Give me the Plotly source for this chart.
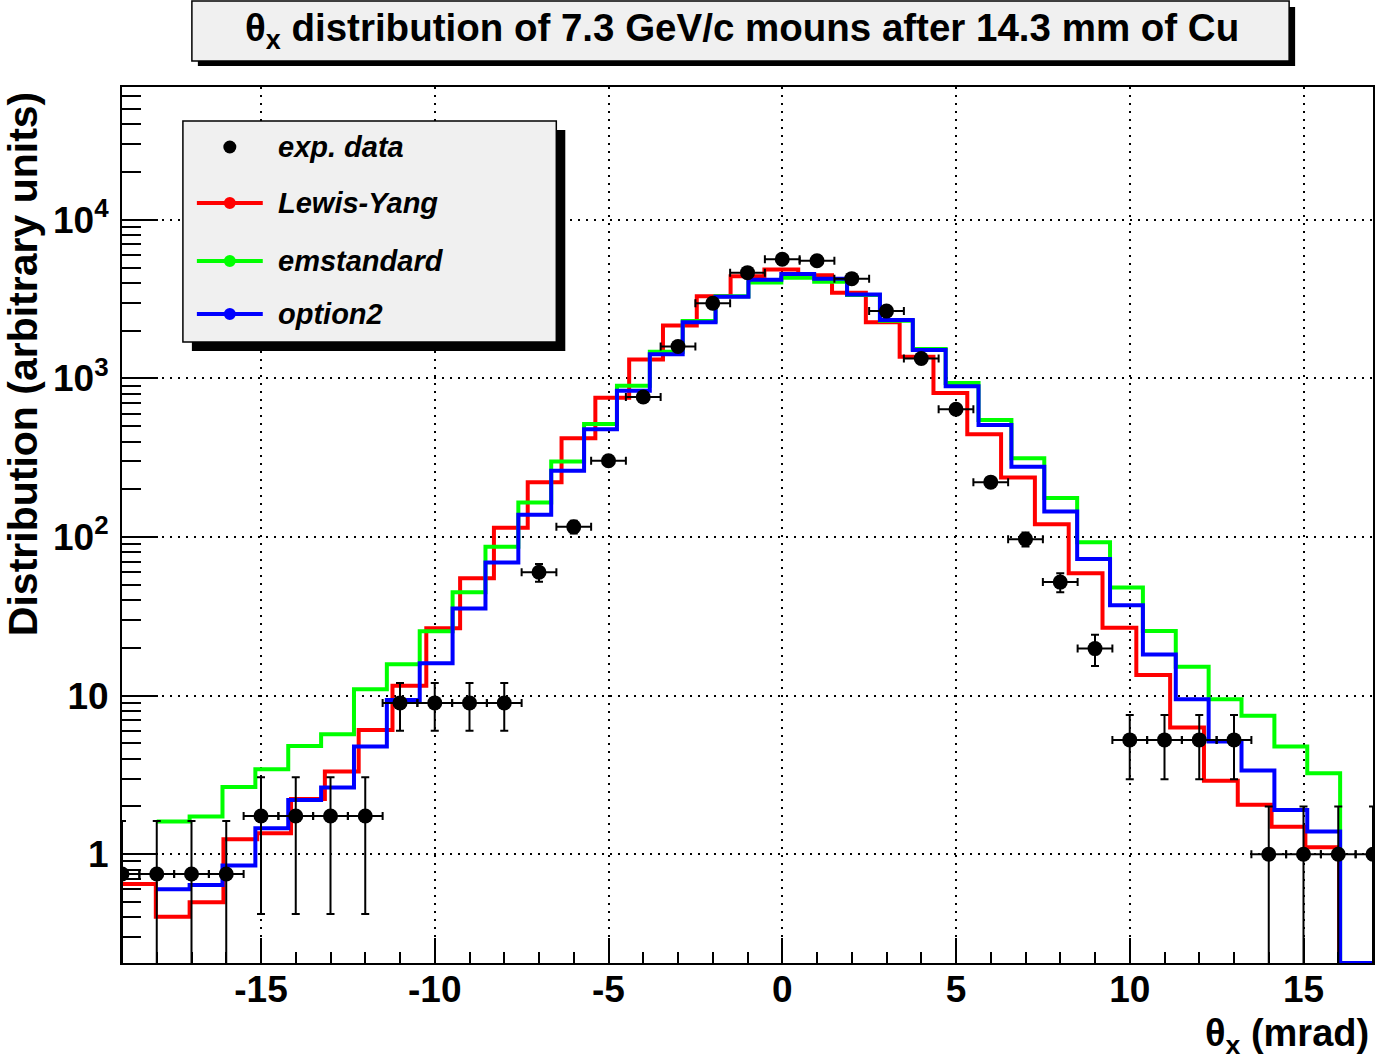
import numpy as np
import plotly.graph_objects as go

# ---------------- data ----------------
# experimental points (theta_x in mrad)
data_x = list(range(-19, 18))
data_y = [0.75, 0.75, 0.75, 0.75, 1.74, 1.74, 1.74, 1.74, 9.0, 9.0, 9.0, 9.0,
          60, 116, 303, 764, 1590, 2980, 4650, 5650, 5530, 4260, 2660, 1335,
          640, 222, 97, 52, 19.8, 5.26, 5.26, 5.26, 5.26, 1.0, 1.0, 1.0, 1.0]
data_yerr = [0.87, 0.87, 0.87, 0.87, 1.32, 1.32, 1.32, 1.32, 3.0, 3.0, 3.0, 3.0,
             7.7, 10.8, 17.4, 27.6, 39.9, 54.6, 68.2, 75.2, 74.4, 65.3, 51.6, 36.5,
             25.3, 14.9, 9.85, 7.2, 4.45, 2.29, 2.29, 2.29, 2.29, 1.0, 1.0, 1.0, 1.0]
data_xerr = [0.5] * len(data_x)

# simulated histograms: (low edge, high edge) and bin contents
lewis_range = (-19.0, 17.0)
lewis_yang = [0.65, 0.404, 0.498, 1.244, 1.357, 2.23, 3.32, 6.08, 11.56, 26.6,
              55.0, 114.6, 222, 420, 756, 1315, 2160, 3300, 4410, 4860, 4470,
              3475, 2265, 1372, 810, 445, 237, 120.5, 59.1, 26.8, 13.5, 6.29,
              2.91, 2.05, 1.49, 1.107, 0]

em_range = (-18.0, 17.0)
emstandard = [1.61, 1.73, 2.65, 3.43, 4.82, 5.71, 10.97, 15.8, 25.5, 44.9, 87,
              165, 299, 516, 900, 1476, 2300, 3300, 4030, 4320, 4080, 3364,
              2313, 1535, 937, 547, 314, 176, 92.7, 48.1, 25.6, 15.2, 9.49,
              7.48, 4.77, 3.24, 0]

opt2_range = (-18.0, 17.0)
option2 = [0.601, 0.640, 0.848, 1.458, 2.20, 2.63, 4.77, 9.4, 16.0, 35.4, 69,
           138, 262, 478, 838, 1424, 2265, 3281, 4200, 4553, 4250, 3390, 2339,
           1513, 892, 509, 278, 145, 72.8, 37.1, 18.2, 9.49, 5.13, 3.37, 1.90,
           1.39, 0]

x_tickvals = [-15, -10, -5, 0, 5, 10, 15]
x_ticktext = ['-15', '-10', '-5', '0', '5', '10', '15']
y_tickvals = [1, 10, 100, 1000, 10000]
y_ticktext = ['1', '10', '10<sup>2</sup>', '10<sup>3</sup>', '10<sup>4</sup>']

series = [("Lewis-Yang", lewis_range, lewis_yang, "#ff0000"),
          ("emstandard", em_range, emstandard, "#00ff00"),
          ("option2", opt2_range, option2, "#0000ff")]

# ---------------- layout geometry ----------------
W, H = 1376, 1061
ML, MR, MT, MB = 122, 1, 87, 98
PW, PH = W - ML - MR, H - MT - MB
Y_LOG_RANGE = [-0.686, 4.838]
Y_FLOOR = 10 ** Y_LOG_RANGE[0]

def px(x):
    return (x - ML) / PW

def py(y):
    return (H - MB - y) / PH

FONT = "Liberation Sans, Arial, Helvetica, sans-serif"

fig = go.Figure()

for name, (lo, hi), vals, col in series:
    edges = np.linspace(lo, hi, len(vals) + 1)
    shown = [v if v > 0 else Y_FLOOR for v in vals]
    fig.add_trace(go.Scatter(
        x=edges, y=shown + [shown[-1]], mode="lines", name=name,
        line=dict(color=col, width=4, shape="hv"), showlegend=False,
        hoverinfo="skip"))

fig.add_trace(go.Scatter(
    x=data_x, y=data_y, mode="markers", name="exp. data",
    marker=dict(color="black", size=15, symbol="circle"),
    error_y=dict(type="data", array=data_yerr, arrayminus=data_yerr,
                 color="black", thickness=2, width=4),
    error_x=dict(type="data", array=data_xerr, arrayminus=data_xerr,
                 color="black", thickness=2, width=4),
    showlegend=False, cliponaxis=True))

# y minor tick positions (2..9 x decade)
y_minor = []
for d in range(-1, 5):
    for k in range(2, 10):
        v = k * 10 ** d
        if Y_LOG_RANGE[0] < np.log10(v) < Y_LOG_RANGE[1]:
            y_minor.append(v)

fig.update_layout(
    width=W, height=H,
    margin=dict(l=ML, r=MR, t=MT, b=MB, pad=0),
    paper_bgcolor="white", plot_bgcolor="white",
    showlegend=False,
    xaxis=dict(
        range=[-19, 17], showline=True, linecolor="black", linewidth=2,
        mirror=True, ticks="inside", ticklen=25, tickwidth=2, tickcolor="black",
        tickmode="array", tickvals=x_tickvals, ticktext=x_ticktext,
        tickfont=dict(family=FONT, size=37, color="black", weight="bold"),
        ticklabelstandoff=-7,
        showgrid=True, gridcolor="black", gridwidth=2, griddash="2px,6px",
        zeroline=False,
        minor=dict(dtick=1, tick0=0, ticks="inside", ticklen=11,
                   tickwidth=2, tickcolor="black", showgrid=False),
    ),
    yaxis=dict(
        type="log", range=Y_LOG_RANGE, showline=True, linecolor="black",
        linewidth=2, mirror=True, ticks="inside", ticklen=36, tickwidth=2,
        tickcolor="black", tickmode="array", tickvals=y_tickvals,
        ticktext=y_ticktext,
        tickfont=dict(family=FONT, size=37, color="black", weight="bold"),
        ticklabelstandoff=4,
        showgrid=True, gridcolor="black", gridwidth=2, griddash="2px,6px",
        zeroline=False,
        minor=dict(tickmode="array", tickvals=y_minor, ticks="inside",
                   ticklen=19, tickwidth=2, tickcolor="black", showgrid=False),
    ),
)

shapes = []
# title box with shadow
shapes.append(dict(type="rect", xref="paper", yref="paper",
                   x0=px(198), x1=px(1297), y0=py(66), y1=py(7),
                   fillcolor="black", line=dict(width=0), layer="above"))
shapes.append(dict(type="rect", xref="paper", yref="paper",
                   x0=px(192), x1=px(1291), y0=py(61), y1=py(1),
                   fillcolor="#f0f0f0", line=dict(color="black", width=1.5),
                   layer="above"))
# legend box with shadow
shapes.append(dict(type="rect", xref="paper", yref="paper",
                   x0=px(192), x1=px(566), y0=py(351), y1=py(130),
                   fillcolor="black", line=dict(width=0), layer="above"))
shapes.append(dict(type="rect", xref="paper", yref="paper",
                   x0=px(183), x1=px(557), y0=py(342), y1=py(121),
                   fillcolor="#f0f0f0", line=dict(color="black", width=1.5),
                   layer="above"))

legend_rows = [("exp. data", "black", False, 147),
               ("Lewis-Yang", "#ff0000", True, 203),
               ("emstandard", "#00ff00", True, 261),
               ("option2", "#0000ff", True, 314)]
annotations = []
for label, col, has_line, yc in legend_rows:
    if has_line:
        shapes.append(dict(type="line", xref="paper", yref="paper",
                           x0=px(197), x1=px(263), y0=py(yc), y1=py(yc),
                           line=dict(color=col, width=4), layer="above"))
    r = 6.5 if not has_line else 6
    shapes.append(dict(type="circle", xref="paper", yref="paper",
                       xsizemode="pixel", ysizemode="pixel",
                       xanchor=px(230), yanchor=py(yc),
                       x0=-r, x1=r, y0=-r, y1=r,
                       fillcolor=col, line=dict(color=col, width=0),
                       layer="above"))
    annotations.append(dict(xref="paper", yref="paper", x=px(276), y=py(yc),
                            xanchor="left", yanchor="middle", showarrow=False,
                            text=label,
                            font=dict(family=FONT, size=29, color="black",
                                      weight="bold", style="italic")))

# title text
annotations.append(dict(xref="paper", yref="paper", x=px(743), y=py(31),
                        xanchor="center", yanchor="middle", showarrow=False,
                        text="θ<sub>x</sub> distribution of 7.3 GeV/c mouns after 14.3 mm of Cu",
                        font=dict(family=FONT, size=38.5, color="black",
                                  weight="bold")))
# x axis title
annotations.append(dict(xref="paper", yref="paper", x=px(1373), y=py(1036),
                        xanchor="right", yanchor="middle", showarrow=False,
                        text="θ<sub>x</sub> (mrad)",
                        font=dict(family=FONT, size=38, color="black",
                                  weight="bold")))
# y axis title
annotations.append(dict(xref="paper", yref="paper", x=px(23), y=py(364),
                        xanchor="center", yanchor="middle", showarrow=False,
                        textangle=-90,
                        text="Distribution (arbitrary units)",
                        font=dict(family=FONT, size=41, color="black",
                                  weight="bold")))

fig.update_layout(shapes=shapes, annotations=annotations)

fig.write_html("out.html")
